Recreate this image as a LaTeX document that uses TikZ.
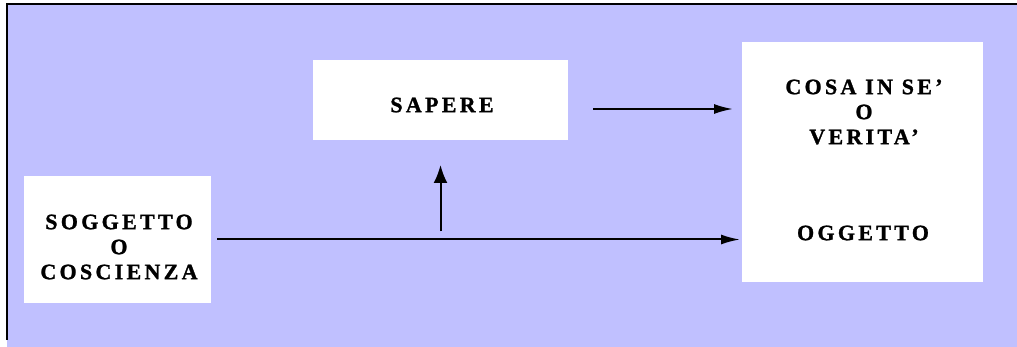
\documentclass[tikz,border=0pt]{standalone}
\usepackage{fontspec}
\setmainfont{Liberation Serif}
\usetikzlibrary{arrows.meta,calc}
\definecolor{lav}{RGB}{192,192,255}
\begin{document}
\begin{tikzpicture}[x=1pt,y=-1pt,
  box/.style={fill=white, draw=none, inner sep=0pt, outer sep=0pt},
  lbl/.style={font=\fontsize{22}{25}\selectfont\bfseries\addfontfeature{LetterSpace=15,FakeBold=1.2}, align=center, inner sep=0pt},
  arr/.style={line width=2pt, -{Latex[length=19pt,width=10pt]}},
  varr/.style={line width=2pt, -{Latex[length=18pt,width=14pt]}}]
\useasboundingbox (0,0) rectangle (1017,347);
\fill[white] (0,0) rectangle (1017,347);
\fill[lav] (7,5) rectangle (1017,347);
\draw[line width=2pt] (7,340) -- (7,4.5) -- (1017,4.5);
% boxes
\node[box, minimum width=187pt, minimum height=127pt] (sog) at (117.5,239.5) {};
\node[box, minimum width=255pt, minimum height=80pt] (sap) at (440.5,100) {};
\node[box, minimum width=241pt, minimum height=240pt] (obj) at (862.5,162) {};
% labels
\node[lbl] (sogt) at (119,247) {SOGGETTO\\O\\COSCIENZA};
\node[lbl] (sapt) at (442,105) {SAPERE};
\node[lbl] (cosat) at (864,112) {COSA IN SE'\\O\\VERITA'};
\node[lbl] (oggt) at (863,233) {OGGETTO};
% connectors
\coordinate (j) at (sap.south |- sog.east);
\coordinate (t1) at ($(sap.east)+(25,9)$);
\draw[arr, shorten <=6pt, shorten >=2pt] (sog.east) -- (sog.east -| obj.west);
\draw[varr, shorten <=8pt, shorten >=25pt] (j) -- (sap.south);
\draw[arr, shorten >=9pt] (t1) -- (t1 -| obj.west);
\end{tikzpicture}
\end{document}
